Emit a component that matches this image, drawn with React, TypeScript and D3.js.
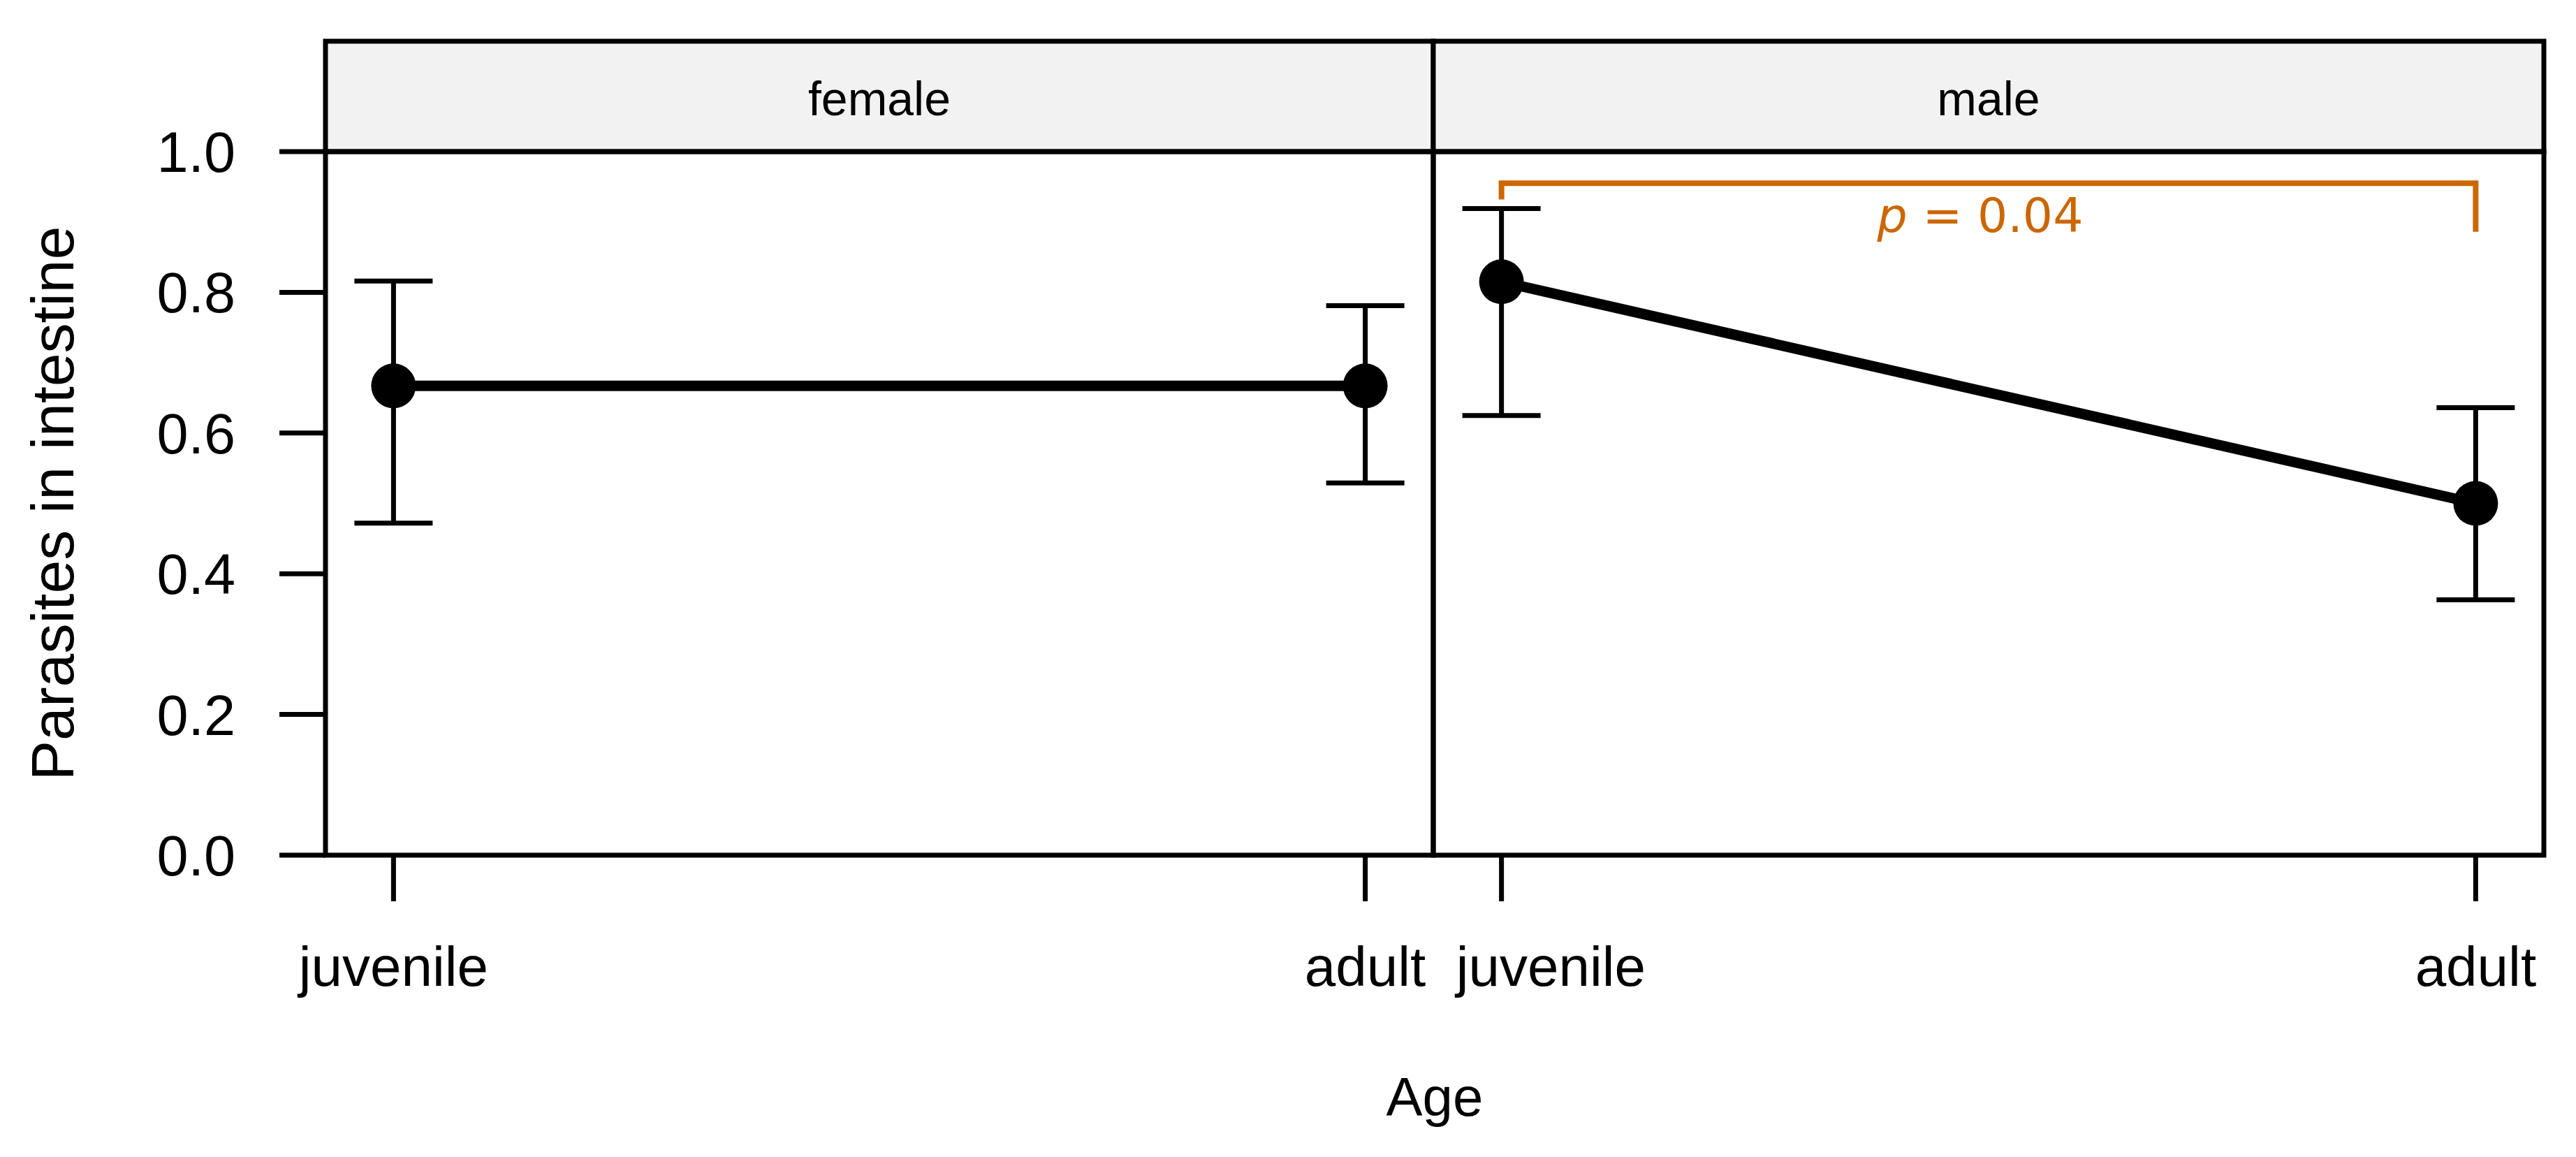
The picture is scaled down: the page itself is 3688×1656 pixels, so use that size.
import React from "react";
import * as d3 from "d3";

const panels = ["female", "male"];
const ages = ["juvenile", "adult"];
// estimates per panel: [juvenile, adult]
const femaleMean = [0.667, 0.667];
const femaleLower = [0.472, 0.529];
const femaleUpper = [0.816, 0.781];
const maleMean = [0.815, 0.5];
const maleLower = [0.625, 0.363];
const maleUpper = [0.919, 0.636];
const yTicks = [0, 0.2, 0.4, 0.6, 0.8, 1.0];
const bracketTop = 0.955;
const bracketTips = [0.932, 0.886];
const pLabel = "0.04";

const W = 3688;
const H = 1656;
const panelX = [[466, 2052], [2052, 3642]];
const top = 217;
const bottom = 1224;
const stripTop = 59;
const orange = "#CC6600";
const font = "'Liberation Sans', Arial, sans-serif";

export default function App() {
  const y = d3.scaleLinear().domain([0, 1]).range([bottom, top]);
  const series = [
    { mean: femaleMean, lo: femaleLower, hi: femaleUpper },
    { mean: maleMean, lo: maleLower, hi: maleUpper },
  ];
  const line = (xs: d3.ScalePoint<string>, vals: number[]) =>
    d3.line<number>().x((_, i) => xs(ages[i])!).y((d) => y(d))(vals);

  return (
    <svg width={W} height={H} style={{ position: "absolute", left: 0, top: 0, background: "#fff" }}>
      {/* strips */}
      {panels.map((p, pi) => {
        const [x0, x1] = panelX[pi];
        return (
          <g key={"s" + p}>
            <rect x={x0} y={stripTop} width={x1 - x0} height={top - stripTop} fill="#F2F2F2" stroke="#000" strokeWidth={7} />
            <text x={(x0 + x1) / 2} y={165} textAnchor="middle" fontFamily={font} fontSize={68} fill="#000">{p}</text>
          </g>
        );
      })}
      {panels.map((p, pi) => {
        const [x0, x1] = panelX[pi];
        const xs = d3.scalePoint<string>().domain(ages).range([x0, x1]).padding(0.07);
        const s = series[pi];
        return (
          <g key={p}>
            <rect x={x0} y={top} width={x1 - x0} height={bottom - top} fill="none" stroke="#000" strokeWidth={7} />
            {/* error bars */}
            {ages.map((a, i) => (
              <g key={a} stroke="#000" strokeWidth={7}>
                <line x1={xs(a)} x2={xs(a)} y1={y(s.lo[i])} y2={y(s.hi[i])} />
                <line x1={xs(a)! - 56} x2={xs(a)! + 56} y1={y(s.lo[i])} y2={y(s.lo[i])} />
                <line x1={xs(a)! - 56} x2={xs(a)! + 56} y1={y(s.hi[i])} y2={y(s.hi[i])} />
              </g>
            ))}
            <path d={line(xs, s.mean)!} fill="none" stroke="#000" strokeWidth={15} />
            {ages.map((a, i) => (
              <circle key={"c" + a} cx={xs(a)} cy={y(s.mean[i])} r={32} fill="#000" />
            ))}
            {/* x ticks */}
            {ages.map((a) => (
              <line key={"t" + a} x1={xs(a)} x2={xs(a)} y1={bottom} y2={1290} stroke="#000" strokeWidth={7} />
            ))}
            {ages.map((a, i) => {
              const nudge = pi === 1 && i === 0;
              return (
                <text key={"l" + a} x={nudge ? xs(a)! - 65 : xs(a)} y={1411} textAnchor={nudge ? "start" : "middle"} fontFamily={font} fontSize={80} fill="#000">{a}</text>
              );
            })}
            {pi === 1 && (
              <g>
                <path
                  d={`M${xs(ages[0])},${y(bracketTips[0])}V${y(bracketTop)}H${xs(ages[1])}V${y(bracketTips[1])}`}
                  fill="none" stroke={orange} strokeWidth={8}
                />
                <text x={(xs(ages[0])! + xs(ages[1])!) / 2 - 12} y={332} textAnchor="middle" fontFamily="'DejaVu Sans', sans-serif" fontSize={68} fill={orange}>
                  <tspan fontStyle="italic">p</tspan> = {pLabel}
                </text>
              </g>
            )}
          </g>
        );
      })}
      {/* y axis */}
      {yTicks.map((t) => (
        <g key={t}>
          <line x1={400} x2={466} y1={y(t)} y2={y(t)} stroke="#000" strokeWidth={7} />
          <text x={337} y={y(t) + 29} textAnchor="end" fontFamily={font} fontSize={81} fill="#000">{t.toFixed(1)}</text>
        </g>
      ))}
      <text transform={`translate(105,${(top + bottom) / 2}) rotate(-90)`} textAnchor="middle" fontFamily={font} fontSize={86} fill="#000">Parasites in intestine</text>
      <text x={(panelX[0][0] + panelX[1][1]) / 2} y={1597} textAnchor="middle" fontFamily={font} fontSize={78} fill="#000">Age</text>
    </svg>
  );
}
